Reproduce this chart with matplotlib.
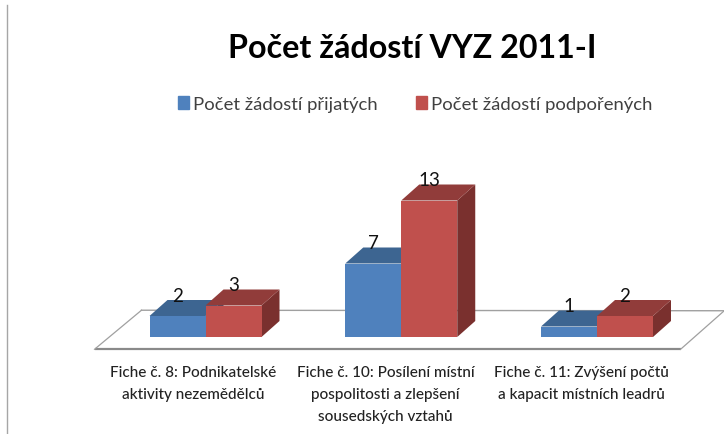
import numpy as np
import matplotlib
matplotlib.use("Agg")
import matplotlib.pyplot as plt
from matplotlib.lines import Line2D
from matplotlib.patches import Patch, Polygon

categories = ["Fiche č. 8: Podnikatelské\naktivity nezemědělců",
              "Fiche č. 10: Posílení místní\npospolitosti a zlepšení\nsousedských vztahů",
              "Fiche č. 11: Zvýšení počtů\na kapacit místních leadrů"]
prijatych = [2, 7, 1]
podporenych = [3, 13, 2]
series_names = ["Počet žádostí přijatých", "Počet žádostí podpořených"]

W, H = 724, 435
BAR_W = 56 / 195.75
DX = 18 / 195.75     # oblique depth of the bars
DY = 16 / 10.5

plt.rcParams["font.family"] = ["Lato", "DejaVu Sans"]

fig = plt.figure(figsize=(W / 100, H / 100), dpi=100)
ax = fig.add_axes([0, 0, 1, 1])
ax.set_xlim(-205.5 / 195.75, (W - 205.5) / 195.75)
ax.set_ylim((338 - H) / 10.5, 338 / 10.5)
ax.axis("off")


def bar3d(x, v, front, top, side):
    """Draws one bar with a fake 3d top and side."""
    x0, x1 = x, x + BAR_W
    ax.add_patch(Polygon([(x1, 0), (x1 + DX, DY), (x1 + DX, v + DY), (x1, v)], color=side, lw=0, zorder=3))
    ax.add_patch(Polygon([(x0, v), (x0 + DX, v + DY), (x1 + DX, v + DY), (x1, v)], color=top, lw=0, zorder=3))
    ax.add_patch(Polygon([(x0, 0), (x1, 0), (x1, v), (x0, v)], color=front, lw=0, zorder=3))
    ax.annotate(str(v), (x + BAR_W / 2, v), xytext=(0, 15), textcoords="offset points",
                ha="center", va="center", fontsize=13.5, color="#111111", zorder=4)


# floor of the chart
floor_x = [-0.567, 2.427, 2.65, -0.327]
floor_y = [-1.17, -1.17, 2.5, 2.55]
ax.plot(floor_x[:2], floor_y[:2], color="#8a8a8a", lw=1.6, solid_capstyle="butt", zorder=1)
ax.plot([floor_x[1], floor_x[2]], [floor_y[1], floor_y[2]], color="#a0a0a0", lw=0.9, zorder=1)
ax.plot(floor_x[2:], floor_y[2:], color="#a0a0a0", lw=1.0, zorder=1)
ax.plot([floor_x[3], floor_x[0]], [floor_y[3], floor_y[0]], color="#a0a0a0", lw=0.9, zorder=1)

for i in range(len(categories)):
    bar3d(i - BAR_W, prijatych[i], "#4f81bd", "#3d6591", "#345678")
    bar3d(i, podporenych[i], "#c0504d", "#913c3a", "#7a302e")

label_x = [-0.065, 0.92, 1.92]
for i, lab in enumerate(categories):
    ax.text(label_x[i], -2.7, lab, ha="center", va="top", fontsize=11, fontweight="medium",
            color="#222222", linespacing=1.72)

fig.text(412 / W, 1 - 48 / H, "Počet žádostí VYZ 2011-I", ha="center", va="center",
         fontsize=23.2, fontweight="bold", color="black")

handles = [Patch(color="#4f81bd"), Patch(color="#c0504d")]
fig.legend(handles, series_names, ncol=2, loc="center", bbox_to_anchor=(415 / W, 1 - 105 / H),
           frameon=False, fontsize=13.3, labelcolor="#404040", handlelength=0.6, handleheight=0.75,
           handletextpad=0.2, columnspacing=2.1)

fig.add_artist(Line2D([7 / W, 7 / W], [0, 1 - 6 / H], color="#a6a6a6", lw=1))

fig.savefig("out.png", dpi=100)
